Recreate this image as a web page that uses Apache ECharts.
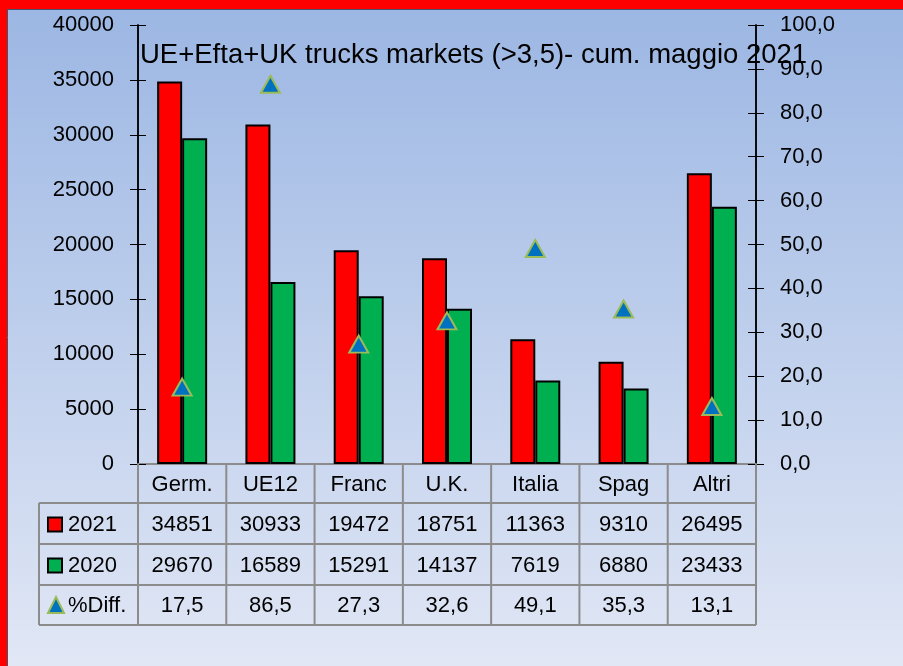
<!DOCTYPE html>
<html><head><meta charset="utf-8">
<script src="https://cdn.jsdelivr.net/npm/echarts@6/dist/echarts.min.js"></script>
<style>html,body{margin:0;padding:0;background:#fff}#c{width:903px;height:666px}</style>
</head><body><div id="c"></div>
<script>
const titleText = 'UE+Efta+UK trucks markets (>3,5)- cum. maggio 2021';
const categories = ['Germ.', 'UE12', 'Franc', 'U.K.', 'Italia', 'Spag', 'Altri'];
const seriesNames = ['2021', '2020', '%Diff.'];
const v2021 = [34851, 30933, 19472, 18751, 11363, 9310, 26495];
const v2020 = [29670, 16589, 15291, 14137, 7619, 6880, 23433];
const diffPct = [17.5, 86.5, 27.3, 32.6, 49.1, 35.3, 13.1];
const leftAxis = { min: 0, max: 40000, interval: 5000 };
const rightAxis = { min: 0, max: 100, interval: 10 };

const FONT = "'Liberation Sans', Arial, sans-serif";
const RED = '#ff0000', GREEN = '#00b050', TRI = '#0070c0', TRI_B = '#9bbb59';
const GL = 138, GR = 756, GT = 25, GB = 464;
const rowY = [464, 503, 544, 585, 625];
const tableLeft = 39;
const fmt1 = v => v.toFixed(1).replace('.', ',');

const chart = echarts.init(document.getElementById('c'), null, { renderer: 'canvas' });

function tableGraphics() {
  const g = [];
  const w = (GR - GL) / categories.length;
  const lineStyle = { stroke: '#8c8c8c', lineWidth: 2 };
  for (let r = 1; r < rowY.length; r++) {
    g.push({ type: 'line', shape: { x1: tableLeft, y1: rowY[r], x2: GR, y2: rowY[r] }, style: lineStyle, z: 5 });
  }
  g.push({ type: 'line', shape: { x1: tableLeft, y1: rowY[1], x2: tableLeft, y2: rowY[4] }, style: lineStyle, z: 5 });
  for (let i = 0; i <= categories.length; i++) {
    const x = GL + i * w;
    g.push({ type: 'line', shape: { x1: x, y1: rowY[0], x2: x, y2: rowY[4] }, style: lineStyle, z: 5 });
  }
  const rows = [categories, v2021.map(String), v2020.map(String), diffPct.map(fmt1)];
  rows.forEach((row, r) => {
    const cy = (rowY[r] + rowY[r + 1]) / 2 + 1;
    row.forEach((t, i) => {
      g.push({ type: 'text', x: GL + (i + 0.5) * w, y: cy, style: { text: t, font: '22px ' + FONT, fill: '#000', align: 'center', verticalAlign: 'middle' }, z: 6 });
    });
  });
  for (let s = 0; s < 3; s++) {
    const cy = (rowY[s + 1] + rowY[s + 2]) / 2 + 1;
    if (s < 2) {
      g.push({ type: 'rect', shape: { x: 48, y: cy - 7, width: 14, height: 14 }, style: { fill: s === 0 ? RED : GREEN, stroke: '#000', lineWidth: 2 }, z: 6 });
    } else {
      g.push({ type: 'polygon', shape: { points: [[56, cy - 9], [64, cy + 7], [48, cy + 7]] }, style: { fill: TRI, stroke: TRI_B, lineWidth: 2 }, z: 6 });
    }
    g.push({ type: 'text', x: 68, y: cy, style: { text: seriesNames[s], font: '22px ' + FONT, fill: '#000', align: 'left', verticalAlign: 'middle' }, z: 6 });
  }
  g.push({ type: 'rect', shape: { x: 0, y: 0, width: 903, height: 9 }, style: { fill: RED }, z: 10 });
  g.push({ type: 'rect', shape: { x: 0, y: 0, width: 7, height: 666 }, style: { fill: RED }, z: 10 });
  g.push({ type: 'line', shape: { x1: 7, y1: 9.5, x2: 903, y2: 9.5 }, style: { stroke: '#44546a', lineWidth: 1 }, z: 10 });
  g.push({ type: 'line', shape: { x1: 7.5, y1: 9, x2: 7.5, y2: 666 }, style: { stroke: '#44546a', lineWidth: 1 }, z: 10 });
  return g;
}

const yBase = (pos, cfg, extra) => Object.assign({
  type: 'value', position: pos, min: cfg.min, max: cfg.max, interval: cfg.interval,
  splitLine: { show: false },
  axisLine: { show: true, lineStyle: { color: '#000', width: 1.5 } },
  axisTick: { show: true, length: 8, lineStyle: { color: '#000', width: 1 } }
}, extra);

const option = {
  animation: false,
  backgroundColor: new echarts.graphic.LinearGradient(0, 0, 0, 1, [
    { offset: 0, color: '#9bb6e3' }, { offset: 1, color: '#e1e7f5' }
  ]),
  title: {
    text: titleText, left: 135, top: 36,
    textStyle: { fontFamily: FONT, fontSize: 27.5, fontWeight: 'normal', color: '#000' }
  },
  grid: { left: GL, right: 903 - GR, top: GT, bottom: 666 - GB, containLabel: false },
  xAxis: [
    { type: 'category', data: categories, axisLabel: { show: false }, axisTick: { show: false },
      axisLine: { show: true, lineStyle: { color: '#000', width: 1.5 } } },
    { type: 'category', data: categories, position: 'top', axisLabel: { show: false }, axisTick: { show: false },
      axisLine: { show: true, lineStyle: { color: '#8c8c8c', width: 2 } } }
  ],
  yAxis: [
    yBase('left', leftAxis, { axisLabel: { fontFamily: FONT, fontSize: 22, color: '#000', margin: 24, formatter: v => String(v) } }),
    yBase('right', rightAxis, { axisLabel: { fontFamily: FONT, fontSize: 22, color: '#000', margin: 24, formatter: fmt1 } }),
    yBase('left', leftAxis, { axisLabel: { show: false }, axisTick: { show: true, inside: true, length: 8, lineStyle: { color: '#000', width: 1 } } }),
    yBase('right', rightAxis, { axisLabel: { show: false }, axisTick: { show: true, inside: true, length: 8, lineStyle: { color: '#000', width: 1 } } })
  ],
  series: [
    { name: seriesNames[0], type: 'bar', data: v2021, yAxisIndex: 0, barWidth: 25, barGap: '0%',
      itemStyle: { color: RED, borderColor: '#000', borderWidth: 2 } },
    { name: seriesNames[1], type: 'bar', data: v2020, yAxisIndex: 0, barWidth: 25, barGap: '0%',
      itemStyle: { color: GREEN, borderColor: '#000', borderWidth: 2 } },
    { name: seriesNames[2], type: 'line', data: diffPct, yAxisIndex: 1, symbol: 'triangle', symbolSize: [19, 17],
      lineStyle: { opacity: 0 }, itemStyle: { color: TRI, borderColor: TRI_B, borderWidth: 2 }, z: 4 }
  ],
  graphic: tableGraphics()
};
chart.setOption(option);
</script>
</body></html>
